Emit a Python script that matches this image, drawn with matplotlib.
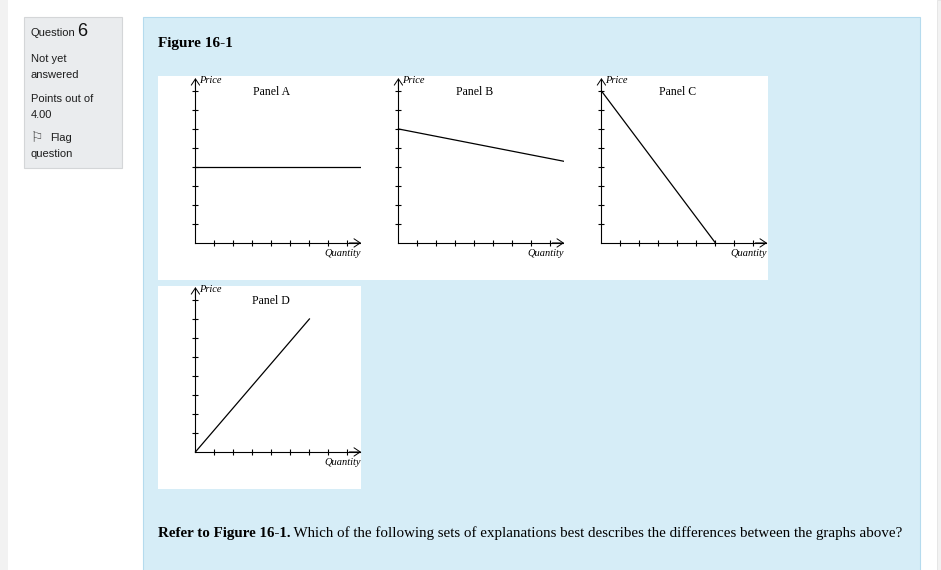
import matplotlib.pyplot as plt
from matplotlib.patches import Rectangle

# =========================
# DATA
# =========================

panel_names = ["Panel A", "Panel B", "Panel C", "Panel D"]

# line in each panel, (quantity, price) in grid units
quantity = [
    [0, 8.7],
    [0, 8.7],
    [0, 6],
    [0, 6],
]
price = [
    [4, 4],
    [6, 4.3],
    [8, 0],
    [0, 7],
]

grid_ticks = [1, 2, 3, 4, 5, 6, 7, 8]

figure_title = "Figure 16-1"
question_bold = "Refer to Figure 16-1."
question_rest = " Which of the following sets of explanations best describes the differences between the graphs above?"

sidebar_lines = ["Not yet", "answered", "Points out of", "4.00"]

# =========================
# PAGE
# =========================

W, H = 941, 570
fig = plt.figure(figsize=(W / 100, H / 100), dpi=100)
fig.patch.set_facecolor("white")


def px_rect(x, y, w, h, **kw):
    # x, y = top-left corner in pixels
    r = Rectangle(
        (x / W, 1 - (y + h) / H), w / W, h / H,
        transform=fig.transFigure, zorder=-5, **kw
    )
    fig.patches.append(r)


def px_text(x, y, s, **kw):
    return fig.text(x / W, 1 - y / H, s, **kw)


# gray strips at page edges
px_rect(0, 0, 8, H, facecolor="#f2f2f2", edgecolor="none")
px_rect(937, 0, 4, H, facecolor="#f2f2f2", edgecolor="#e3e3e3", lw=0.6)

# sidebar box
px_rect(24, 17, 98, 151, facecolor="#eaecee", edgecolor="#d4d6d8", lw=0.8)

sans = "Liberation Sans"
px_text(31, 36, "Question", fontsize=8, family=sans, va="baseline", color="#1d1d1d")
px_text(77, 36, "6", fontsize=13, family=sans, va="baseline", color="#111111")

sidebar_y = [62, 78, 102, 118]
for label, yy in zip(sidebar_lines, sidebar_y):
    px_text(31, yy, label, fontsize=8, family=sans, va="baseline", color="#1d1d1d")

px_text(31, 142, "\u2690", fontsize=10, family="DejaVu Sans", va="baseline", color="#444444")
px_text(50, 141, "Flag", fontsize=8, family=sans, va="baseline", color="#1d1d1d")
px_text(31, 157, "question", fontsize=8, family=sans, va="baseline", color="#1d1d1d")

# question content box
px_rect(143, 17, 777, 560, facecolor="#d6edf7", edgecolor="#b5dbee", lw=0.8)

serif = "Liberation Serif"
px_text(158, 43, figure_title, fontsize=11, family=serif, weight="bold", va="center")

# =========================
# PANELS
# =========================

panel_boxes = [
    (158, 76, 203, 204),
    (361, 76, 203, 204),
    (564, 76, 204, 204),
    (158, 286, 203, 203),
]

arrow = dict(arrowstyle="->, head_length=0.45, head_width=0.3",
             lw=0.7, color="black", shrinkA=0, shrinkB=0)

for name, (x0, y0, w, h), q, p in zip(panel_names, panel_boxes, quantity, price):

    ax = fig.add_axes([x0 / W, 1 - (y0 + h) / H, w / W, h / H])
    ax.set_facecolor("white")

    ax.set_xlim(-1.97, -1.97 + w / 19)
    ax.set_ylim(-1.95, -1.95 + h / 19)

    for side in ["top", "right"]:
        ax.spines[side].set_visible(False)

    ax.spines["left"].set_position(("data", 0))
    ax.spines["bottom"].set_position(("data", 0))
    ax.spines["left"].set_bounds(0, 8.6)
    ax.spines["bottom"].set_bounds(0, 8.65)
    ax.spines["left"].set_linewidth(0.8)
    ax.spines["bottom"].set_linewidth(0.8)

    ax.set_xticks(grid_ticks)
    ax.set_yticks(grid_ticks)
    ax.tick_params(
        direction="inout", length=4.5, width=0.8,
        labelleft=False, labelbottom=False
    )

    # open arrow heads
    ax.annotate("", xy=(0, 8.68), xytext=(0, 8.1), arrowprops=arrow)
    ax.annotate("", xy=(8.72, 0), xytext=(8.1, 0), arrowprops=arrow)

    ax.plot(q, p, color="black", lw=0.9, clip_on=False)

    ax.text(0.2, 8.55, "Price", fontsize=7.5, family=serif,
            style="italic", va="center", ha="left")
    ax.text(8.72, -0.55, "Quantity", fontsize=7.5, family=serif,
            style="italic", va="center", ha="right")
    ax.text(4.0, 7.95, name, fontsize=8.5, family=serif,
            va="center", ha="center")

# =========================
# QUESTION TEXT
# =========================

t1 = px_text(158, 533, question_bold, fontsize=10.8, family=serif,
             weight="bold", va="center")
renderer = fig.canvas.get_renderer()
bb = t1.get_window_extent(renderer)
fig.text(bb.x1 / W, 1 - 533 / H, question_rest, fontsize=10.8,
         family=serif, va="center")

fig.savefig("out.png", dpi=100)
